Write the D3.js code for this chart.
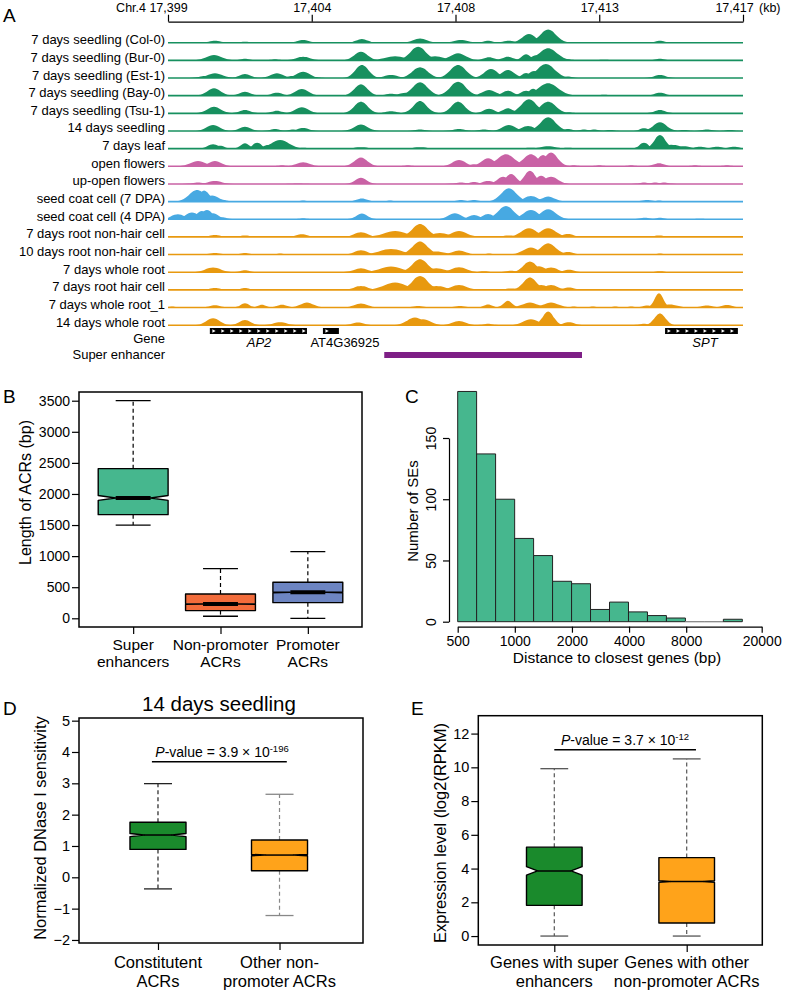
<!DOCTYPE html>
<html><head><meta charset="utf-8">
<script src="https://cdn.jsdelivr.net/npm/d3@7"></script>
<style>
body{margin:0;background:#fff}
svg{display:block}
text{font-family:"Liberation Sans",Arial,Helvetica,sans-serif;fill:#000}
</style>
</head><body>
<svg id="fig" width="786" height="992"></svg>
<script>
// ================= DATA =================
// Panel A: genome browser tracks (peaks: [position kb, signal, half-width kb])
const trackNames = ["7 days seedling (Col-0)","7 days seedling (Bur-0)","7 days seedling (Est-1)","7 days seedling (Bay-0)","7 days seedling (Tsu-1)","14 days seedling","7 days leaf","open flowers","up-open flowers","seed coat cell (7 DPA)","seed coat cell (4 DPA)","7 days root non-hair cell","10 days root non-hair cell","7 days whole root","7 days root hair cell","7 days whole root_1","14 days whole root"];
const trackGroups = ["seedling","seedling","seedling","seedling","seedling","seedling","seedling","flower","flower","seed","seed","root","root","root","root","root","root"];
const axisTickValues = [17399,17403.5,17408,17412.5,17417];
const axisTickLabels = ["17,399","17,404","17,408","17,413","17,417"];

const peaksCol0 = [[17400.47,2,.25],[17401.41,1,.2],[17403.23,2.7,.25],[17405.07,3.7,.25],[17406.89,4.3,.3],[17408.17,2.7,.3],[17409.02,2,.2],[17409.67,2,.25],[17410.30,8.7,.3],[17410.90,13.3,.35],[17414.40,2,.2]];
const peaksBur0 = [[17400.44,5.3,.35],[17401.41,1.5,.2],[17402.35,1,.2],[17403.23,3.7,.3],[17405.04,8.7,.3],[17406.11,4,.45],[17406.83,13.7,.35],[17407.36,4,.4],[17408.08,7,.35],[17409.05,3,.25],[17409.64,3.5,.25],[17410.21,6,.2],[17410.52,5,.25],[17410.90,12,.4],[17411.52,1,.2],[17412.65,.7,.2],[17414.40,1.5,.2]];
const peaksEst1 = [[17400.16,2,.25],[17400.47,4.7,.35],[17401.41,4,.25],[17402.41,4.7,.3],[17402.88,2,.2],[17403.23,6.3,.3],[17403.60,1,.2],[17405.07,13,.3],[17405.98,3,.3],[17406.89,10.7,.35],[17408.08,13,.35],[17409.11,9,.3],[17409.64,8,.3],[17410.21,5,.2],[17410.46,7,.25],[17410.83,14,.4],[17411.52,1.5,.2],[17414.40,3,.25]];
const peaksBay0 = [[17400.44,7.3,.3],[17401.41,4,.25],[17402.41,3,.25],[17403.19,6.7,.3],[17405.04,11.3,.3],[17405.98,2,.25],[17406.51,3,.4],[17406.89,13.3,.35],[17408.08,14,.35],[17409.05,5.7,.3],[17409.64,5,.25],[17410.21,5,.25],[17410.43,7,.2],[17410.90,12.3,.45],[17412.65,1,.2],[17414.40,3,.25]];
const peaksTsu1 = [[17400.44,6.7,.3],[17401.41,3.3,.25],[17402.41,2.5,.25],[17403.19,6,.3],[17405.04,11.7,.3],[17405.98,2,.25],[17406.89,12.3,.3],[17408.08,11.7,.3],[17409.05,4.5,.25],[17409.64,5,.25],[17410.30,14,.35],[17410.90,11.7,.35],[17411.55,1,.2],[17414.40,3.3,.25]];
const peaks14dSeedling = [[17400.41,6,.3],[17401.41,4.3,.25],[17402.35,2,.2],[17402.91,1.5,.2],[17403.23,3,.25],[17405.04,6.5,.3],[17406.89,1.5,.25],[17408.11,2,.25],[17408.89,1.5,.25],[17409.67,6,.3],[17410.27,5,.3],[17410.90,13.7,.35],[17411.52,2,.2],[17412.02,1.5,.2],[17412.34,1.5,.2],[17412.84,1,.2],[17413.90,2.7,.2],[17414.40,8.7,.3],[17415.15,1,.2],[17415.87,1.5,.25],[17416.59,1,.2]];
const peaks7dLeaf = [[17400.41,4.3,.25],[17400.63,3,.2],[17401.41,5.3,.2],[17401.79,6,.2],[17402.20,4,.3],[17402.51,8.7,.4],[17403.23,1,.2],[17405.04,1.5,.3],[17406.89,1.5,.3],[17410.36,1,.3],[17410.90,2.3,.35],[17411.52,1,.25],[17413.90,6,.2],[17414.40,13.7,.25],[17414.75,4,.4],[17415.15,2.5,.3],[17415.65,2,.25],[17416.19,2,.25],[17416.72,2,.25]];
const peaksOpenFlowers = [[17399.94,5.3,.35],[17400.47,5.3,.3],[17402.57,1,.2],[17403.23,4,.3],[17405.04,8.7,.3],[17406.51,1,.2],[17408.11,6.3,.3],[17408.58,2,.2],[17409.02,8,.3],[17409.58,12,.4],[17410.36,12,.35],[17410.74,11.3,.25],[17410.99,13.7,.3],[17411.70,1,.2],[17412.50,1,.2],[17413.50,1,.2],[17414.37,3,.25],[17415.50,1,.2],[17416.50,1,.2]];
const peaksUpOpenFlowers = [[17399.94,1.5,.25],[17400.47,3,.3],[17403.07,.5,.2],[17405.04,6.3,.25],[17408.17,1.5,.25],[17408.58,2,.2],[17409.02,3,.25],[17409.49,7.3,.25],[17409.74,10,.25],[17410.33,13.3,.25],[17410.68,8.3,.25],[17410.99,7.3,.3],[17413.90,1.5,.2],[17414.25,1.5,.2],[17414.53,1.5,.2]];
const peaksSeedCoat7 = [[17399.91,11.7,.35],[17400.13,11,.25],[17400.38,6,.3],[17400.63,2,.25],[17403.23,1,.2],[17405.07,3,.25],[17405.95,1,.2],[17408.17,1.5,.2],[17408.58,1.5,.2],[17409.67,13.3,.35],[17410.36,5.7,.3],[17410.90,5,.3],[17414.00,1.5,.25],[17414.37,1,.2]];
const peaksSeedCoat4 = [[17399.31,5,.3],[17399.75,6.7,.3],[17400.06,8.3,.25],[17400.22,9.3,.25],[17400.41,6,.25],[17400.69,2,.2],[17403.23,1,.2],[17405.07,5.7,.25],[17407.98,6,.3],[17408.58,4.3,.25],[17409.02,5.3,.25],[17409.58,13.3,.35],[17410.36,9.3,.35],[17410.90,10,.35],[17413.93,1.5,.25],[17414.40,1.5,.2],[17415.65,.5,.2]];
const peaksRootNonHair7 = [[17400.47,2,.25],[17401.41,1.5,.2],[17402.35,1,.2],[17403.19,2.7,.25],[17405.04,4.7,.3],[17406.11,6,.5],[17406.89,13,.35],[17407.51,4,.4],[17408.11,6,.35],[17408.89,1,.2],[17409.67,1.5,.25],[17410.30,8.7,.35],[17410.90,8.7,.35],[17411.52,3,.25],[17414.37,1.5,.2]];
const peaksRootNonHair10 = [[17400.47,1.5,.25],[17401.41,1.5,.2],[17402.51,1,.2],[17405.04,4.3,.3],[17405.98,5.7,.5],[17406.89,13,.35],[17407.40,3,.4],[17408.11,4,.3],[17409.05,1,.2],[17410.36,7,.35],[17410.90,11.3,.35],[17411.52,2.7,.25],[17414.40,1,.2]];
const peaksWholeRoot7 = [[17400.41,4.7,.35],[17401.41,2,.2],[17405.04,4,.3],[17405.98,5.7,.5],[17406.89,13,.35],[17407.40,4,.4],[17408.11,5,.35],[17408.89,1,.2],[17409.74,1.5,.25],[17410.33,10.7,.3],[17410.61,6,.3],[17410.99,4.7,.3],[17411.55,2.5,.25],[17414.40,1,.2]];
const peaksRootHair7 = [[17400.47,2,.25],[17401.41,2,.2],[17405.04,4,.3],[17406.11,7.3,.5],[17406.89,14,.35],[17407.40,4,.4],[17408.11,5,.35],[17409.02,1,.2],[17409.74,1.5,.25],[17410.33,12.3,.3],[17410.68,5,.3],[17410.99,5,.3],[17411.55,2.3,.25]];
const peaksWholeRoot7b = [[17399.13,1,.2],[17400.47,2.3,.25],[17401.41,4.3,.2],[17401.94,2.7,.2],[17402.57,2.7,.25],[17403.35,5,.3],[17405.04,4,.3],[17406.83,1.5,.25],[17408.14,1.5,.25],[17409.02,3,.2],[17409.64,6.7,.2],[17410.33,5,.35],[17410.99,5,.35],[17411.70,1,.2],[17412.30,1,.2],[17413.00,1,.2],[17413.50,1,.2],[17414.00,2,.2],[17414.37,14.3,.2],[17414.71,3,.35],[17415.87,2,.25],[17416.50,2.5,.25]];
const peaksWholeRoot14 = [[17400.41,7,.3],[17401.41,5.3,.25],[17402.51,3,.3],[17404.95,2.7,.25],[17406.73,7.7,.35],[17406.98,6,.35],[17408.11,4.3,.3],[17409.02,1.5,.2],[17410.36,6,.35],[17410.90,13.7,.25],[17411.55,3,.25],[17413.90,1.5,.2],[17414.40,11.7,.25]];
const trackPeaks = [peaksCol0,peaksBur0,peaksEst1,peaksBay0,peaksTsu1,peaks14dSeedling,peaks7dLeaf,peaksOpenFlowers,peaksUpOpenFlowers,peaksSeedCoat7,peaksSeedCoat4,peaksRootNonHair7,peaksRootNonHair10,peaksWholeRoot7,peaksRootHair7,peaksWholeRoot7b,peaksWholeRoot14];

const geneNames = ["AP2","AT4G36925","SPT"];
const geneStarts = [17400.31,17403.85,17414.56];
const geneEnds = [17403.35,17404.35,17416.84];
const geneLabelPos = [17401.85,17404.54,17415.81];
const geneItalic = [true,false,true];
const superEnhancer = [17405.77,17411.96];

// Panel B
const bCategories = [["Super","enhancers"],["Non-promoter","ACRs"],["Promoter","ACRs"]];
const bStats = [[1500,1667,1936,2407,3500],[33,124,231,392,800],[0,252,418,579,1072]]; // min,q1,median,q3,max
const bNotch = [40,5,6];
const bTicks = [0,500,1000,1500,2000,2500,3000,3500];

// Panel C
const cBreaks = [500,629,792,998,1256,1581,1991,2506,3155,3972,5000,6295,7925,9977,12560,15812];
const cCounts = [188,137,100,68,54,33,31,10,16,8,5,3,0,0,2];
const cXTicks = [500,1000,2000,4000,8000,20000];
const cYTicks = [0,50,100,150];

// Panel D
const dCategories = [["Constitutent","ACRs"],["Other non-","promoter ACRs"]];
const dStats = [[-0.37,0.89,1.35,1.755,2.99],[-1.22,0.21,0.71,1.19,2.65]];
const dNotch = [0.05,0.02];
const dTicks = [-2,-1,0,1,2,3,4,5];

// Panel E
const eCategories = [["Genes with super","enhancers"],["Genes with other","non-promoter ACRs"]];
const eStats = [[0,1.82,3.86,5.27,9.92],[0,0.77,3.23,4.65,10.5]];
const eNotch = [0.25,0.05];
const eTicks = [0,2,4,6,8,10,12];

const pMantissa = ["3.9","3.7"];
const pExponent = ["-196","-12"];

// ================= DRAW =================
const FONT = '"Liberation Sans", Arial, Helvetica, sans-serif';
const svg = d3.select("#fig");
const groupColor = {seedling:"#17905f", flower:"#c962a5", seed:"#47a9e2", root:"#e8990f"};

function letter(t,x,y){ svg.append("text").attr("x",x).attr("y",y).attr("font-size",19).text(t); }
function styleAxis(g,size){
  g.attr("font-family",FONT).attr("font-size",size);
  g.selectAll("line").attr("stroke","#000").attr("stroke-width",1.2);
  g.selectAll(".domain").attr("stroke","#000").attr("stroke-width",1.2);
}
function multiLabel(g,x,lines,y0,lh,size){
  const t = g.append("text").attr("text-anchor","middle").attr("font-size",size);
  lines.forEach((l,i)=>t.append("tspan").attr("x",x).attr("y",y0+i*lh).text(l));
}
function drawBox(g,xs,ys,center,st,notch,color,o){
  const [mn,q1,md,q3,mx] = st;
  const xc = xs(center), hw = xs(center+o.hw)-xc, ind = hw*o.indent;
  [[q3,mx],[q1,mn]].forEach(([a,b])=>{
    g.append("line").attr("x1",xc).attr("x2",xc).attr("y1",ys(a)).attr("y2",ys(b))
      .attr("stroke",o.wc).attr("stroke-width",1.2).attr("stroke-dasharray","4,3");
    g.append("line").attr("x1",xc-hw*0.5).attr("x2",xc+hw*0.5).attr("y1",ys(b)).attr("y2",ys(b))
      .attr("stroke",o.cc).attr("stroke-width",1.3);
  });
  const pts = [[xc-hw,ys(q3)],[xc+hw,ys(q3)],[xc+hw,ys(md+notch)],[xc+hw-ind,ys(md)],[xc+hw,ys(md-notch)],
    [xc+hw,ys(q1)],[xc-hw,ys(q1)],[xc-hw,ys(md-notch)],[xc-hw+ind,ys(md)],[xc-hw,ys(md+notch)]];
  g.append("polygon").attr("points",pts.map(p=>p.join(",")).join(" "))
    .attr("fill",color).attr("stroke","#000").attr("stroke-width",1.4).attr("stroke-linejoin","round");
  g.append("line").attr("x1",xc-hw+ind).attr("x2",xc+hw-ind).attr("y1",ys(md)).attr("y2",ys(md))
    .attr("stroke","#000").attr("stroke-width",o.medW);
}
function pValue(g,cx,by,i){
  const t = g.append("text").attr("x",cx).attr("y",by).attr("text-anchor","middle").attr("font-size",14);
  t.append("tspan").attr("font-style","italic").text("P");
  t.append("tspan").text("-value = "+pMantissa[i]+" \u00d7 10");
  t.append("tspan").attr("font-size",9.5).attr("dy",-5.5).text(pExponent[i]);
}

// ---------- Panel A ----------
letter("A",3,22);
const xA = d3.scaleLinear().domain([17399,17417]).range([168,743]);
const yTrack = d3.scalePoint().domain(trackNames).range([42.7,325.2]);
const hA = d3.scaleLinear().domain([0,15]).range([0,15]);
const gA = svg.append("g");
const axA = d3.axisTop(xA).tickValues(axisTickValues).tickFormat((d,i)=>axisTickLabels[i])
  .tickSizeInner(7).tickSizeOuter(0).tickPadding(3);
const gAx = gA.append("g").attr("transform","translate(0,21.7)").call(axA);
styleAxis(gAx,12.5);
gAx.selectAll(".tick text").filter((d,i)=>i===axisTickValues.length-1).attr("dx",-9);
gA.append("text").attr("x",146).attr("y",11.7).attr("text-anchor","end").attr("font-size",12.5).text("Chr.4");
gA.append("text").attr("x",759).attr("y",11.7).attr("font-size",12.5).text("(kb)");

const peakArea = d3.area().x(d=>xA(d[0])).y0(0).y1(d=>-hA(d[1])).curve(d3.curveMonotoneX);
const xMinA = 17399, xMaxA = 17417;
trackNames.forEach((name,i)=>{
  const y0 = yTrack(name), col = groupColor[trackGroups[i]];
  const g = gA.append("g").attr("transform",`translate(0,${y0})`);
  trackPeaks[i].forEach(([c,h,w])=>{
    // peak outline: wide foot, rounded shoulders, pointed top
    const pts = [[-2,0],[-1.2,0.22],[-0.8,0.5],[-0.35,0.88],[0,1],[0.35,0.88],[0.8,0.5],[1.2,0.22],[2,0]]
      .map(([dx,f])=>[Math.min(xMaxA,Math.max(xMinA,c+dx*w)),h*f]);
    g.append("path").attr("d",peakArea(pts)).attr("fill",col);
  });
  g.append("line").attr("x1",xA(xMinA)).attr("x2",xA(xMaxA)).attr("y1",0).attr("y2",0)
    .attr("stroke",col).attr("stroke-width",1.6);
  gA.append("text").attr("x",165).attr("y",y0+1.5).attr("text-anchor","end").attr("font-size",13).text(name);
});
// gene track
const geneY = 331;
gA.append("text").attr("x",165).attr("y",343).attr("text-anchor","end").attr("font-size",13).text("Gene");
geneNames.forEach((gn,i)=>{
  const x0 = xA(geneStarts[i]), x1 = xA(geneEnds[i]);
  gA.append("rect").attr("x",x0).attr("y",geneY-3).attr("width",x1-x0).attr("height",6).attr("fill","#000");
  d3.range(x0+4,x1-3,9).forEach(ax=>{
    gA.append("path").attr("d",`M${ax-1.5},${geneY-1.8}L${ax+1.8},${geneY}L${ax-1.5},${geneY+1.8}Z`).attr("fill","#fff");
  });
  gA.append("text").attr("x",xA(geneLabelPos[i])).attr("y",346.5).attr("text-anchor","middle")
    .attr("font-size",13).attr("font-style",geneItalic[i]?"italic":"normal").text(gn);
});
gA.append("text").attr("x",165).attr("y",359).attr("text-anchor","end").attr("font-size",13).text("Super enhancer");
gA.append("rect").attr("x",xA(superEnhancer[0])).attr("y",352).attr("width",xA(superEnhancer[1])-xA(superEnhancer[0]))
  .attr("height",6).attr("fill","#7e1f86");

// ---------- Panel B ----------
letter("B",3,403);
const gB = svg.append("g");
const xB = d3.scaleLinear().domain([0.38,3.62]).range([79,362]);
const yB = d3.scaleLinear().domain([-140,3640]).range([627,392]);
const bColors = ["#46b78e","#f26c3b","#6d85c2"];
bStats.forEach((st,i)=>drawBox(gB,xB,yB,i+1,st,bNotch[i],bColors[i],{hw:0.4,indent:0.5,medW:4,wc:"#000",cc:"#000"}));
gB.append("rect").attr("x",79).attr("y",392).attr("width",283).attr("height",235).attr("fill","none").attr("stroke","#000").attr("stroke-width",1.5);
const gBy = gB.append("g").attr("transform","translate(79,0)").call(d3.axisLeft(yB).tickValues(bTicks).tickFormat(d3.format("d")).tickSize(7).tickPadding(2));
styleAxis(gBy,14); gBy.select(".domain").remove();
const gBx = gB.append("g").attr("transform","translate(0,627)").call(d3.axisBottom(xB).tickValues([1,2,3]).tickSize(7).tickFormat(""));
styleAxis(gBx,14); gBx.select(".domain").remove();
bCategories.forEach((c,i)=>multiLabel(gB,xB(i+1),c,650,17,15.5));
gB.append("text").attr("transform","translate(31,492.5) rotate(-90)").attr("text-anchor","middle").attr("font-size",16).text("Length of ACRs (bp)");

// ---------- Panel C ----------
letter("C",405,403);
const gC = svg.append("g");
const xC = d3.scaleLog().domain([500,20000]).range([457.7,761.7]);
const yC = d3.scaleLinear().domain([0,150]).range([621.7,438]);
cCounts.forEach((n,i)=>{
  const x0 = xC(cBreaks[i]), x1 = xC(cBreaks[i+1]), y0 = yC(0), y1 = yC(n);
  gC.append("path").attr("d",`M${x0},${y0}V${y1}H${x1}V${y0}Z`).attr("fill","#46b78e")
    .attr("stroke",n===0?"#888":"#222").attr("stroke-width",1);
});
const gCx = gC.append("g").attr("transform","translate(0,626.7)")
  .call(d3.axisBottom(xC).tickValues(cXTicks).tickFormat(d3.format("d")).tickSize(6).tickSizeOuter(0).tickPadding(3));
styleAxis(gCx,14);
const gCy = gC.append("g").attr("transform","translate(449,0)")
  .call(d3.axisLeft(yC).tickValues(cYTicks).tickSize(6).tickSizeOuter(0));
styleAxis(gCy,14);
gCy.selectAll(".tick text").attr("x",0).attr("dy",null).attr("text-anchor","middle").attr("transform","translate(-13.5,0) rotate(-90)");
gC.append("text").attr("x",617).attr("y",663).attr("text-anchor","middle").attr("font-size",15.5).text("Distance to closest genes (bp)");
gC.append("text").attr("transform","translate(418,511) rotate(-90)").attr("text-anchor","middle").attr("font-size",15).text("Number of SEs");

// ---------- Panel D ----------
letter("D",3,715);
const gD = svg.append("g");
const xD = d3.scaleLinear().domain([0.35,2.687]).range([79,363]);
const yD = d3.scaleLinear().domain([-2.097,5.085]).range([943,718]);
const dColors = ["#1a8a2c","#ffa31a"];
const dWhisk = ["#222","#888"];
dStats.forEach((st,i)=>drawBox(gD,xD,yD,i+1,st,dNotch[i],dColors[i],{hw:0.2305,indent:0.5,medW:1.5,wc:dWhisk[i],cc:dWhisk[i]}));
gD.append("rect").attr("x",79).attr("y",718).attr("width",284).attr("height",225).attr("fill","none").attr("stroke","#000").attr("stroke-width",1.5);
const gDy = gD.append("g").attr("transform","translate(79,0)").call(d3.axisLeft(yD).tickValues(dTicks).tickSize(7).tickPadding(2));
styleAxis(gDy,14.5); gDy.select(".domain").remove();
const gDx = gD.append("g").attr("transform","translate(0,943)").call(d3.axisBottom(xD).tickValues([1,2]).tickSize(7).tickFormat(""));
styleAxis(gDx,14); gDx.select(".domain").remove();
dCategories.forEach((c,i)=>multiLabel(gD,xD(i+1),c,968,19,16.5));
gD.append("text").attr("transform","translate(45.5,828) rotate(-90)").attr("text-anchor","middle").attr("font-size",16.5).text("Normalized DNase I sensitivity");
gD.append("text").attr("x",219).attr("y",711).attr("text-anchor","middle").attr("font-size",20.5).text("14 days seedling");
gD.append("line").attr("x1",xD(0.95)).attr("x2",xD(2.06)).attr("y1",yD(3.69)).attr("y2",yD(3.69)).attr("stroke","#000").attr("stroke-width",1.5);
pValue(gD,222,757,0);

// ---------- Panel E ----------
letter("E",411,715);
const gE = svg.append("g");
const xE = d3.scaleLinear().domain([0.426,2.571]).range([478.3,762.3]);
const yE = d3.scaleLinear().domain([-0.53,13.06]).range([945,715.7]);
const eColors = ["#1a8a2c","#ffa31a"];
eStats.forEach((st,i)=>drawBox(gE,xE,yE,i+1,st,eNotch[i],eColors[i],{hw:0.21,indent:0.4,medW:1.5,wc:"#555",cc:"#555"}));
gE.append("rect").attr("x",478.3).attr("y",715.7).attr("width",284).attr("height",229.3).attr("fill","none").attr("stroke","#000").attr("stroke-width",1.5);
const gEy = gE.append("g").attr("transform","translate(478.3,0)").call(d3.axisLeft(yE).tickValues(eTicks).tickSize(7).tickPadding(2));
styleAxis(gEy,14.5); gEy.select(".domain").remove();
const gEx = gE.append("g").attr("transform","translate(0,945)").call(d3.axisBottom(xE).tickValues([1,2]).tickSize(7).tickFormat(""));
styleAxis(gEx,14); gEx.select(".domain").remove();
eCategories.forEach((c,i)=>multiLabel(gE,xE(i+1),c,968,19,16.5));
gE.append("text").attr("transform","translate(445.5,833) rotate(-90)").attr("text-anchor","middle").attr("font-size",16.5).text("Expression level (log2(RPKM)");
gE.append("line").attr("x1",xE(1.0)).attr("x2",xE(2.07)).attr("y1",yE(11.04)).attr("y2",yE(11.04)).attr("stroke","#000").attr("stroke-width",1.5);
pValue(gE,625,745,1);
</script>
</body></html>
